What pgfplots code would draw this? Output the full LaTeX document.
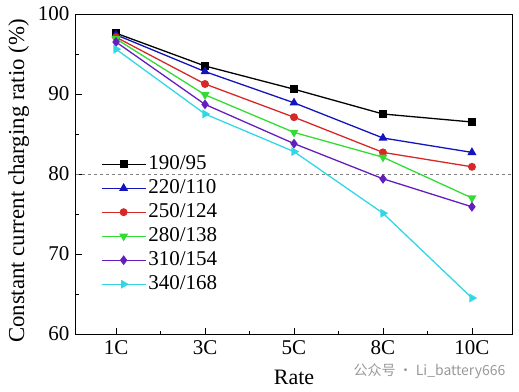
\documentclass[border=0pt]{standalone}
\usepackage{pgfplots}
\pgfplotsset{compat=1.18}
\usepackage{fontspec}
\setmainfont{Liberation Serif}
\newfontfamily\cjk{Noto Sans CJK SC}
\definecolor{cblue}{RGB}{20,20,190}
\definecolor{cred}{RGB}{215,40,40}
\definecolor{cgreen}{RGB}{50,220,50}
\definecolor{cpurple}{RGB}{100,30,190}
\definecolor{ccyan}{RGB}{50,215,230}
\begin{document}
\fontsize{19}{22}\selectfont
\begin{tikzpicture}
\useasboundingbox (-76pt,-57pt) rectangle (443pt,334pt);
\begin{axis}[
  scale only axis, width=436pt, height=320pt,
  xmin=-0.45, xmax=4.45, ymin=60, ymax=100,
  xtick={0,1,2,3,4}, xticklabels={1C,3C,5C,8C,10C},
  minor xtick={0.5,1.5,2.5,3.5},
  ytick={60,70,80,90,100}, minor ytick={65,75,85,95},
  tick pos=left, tick align=inside,
  major tick length=6pt, minor tick length=3.5pt,
  every tick/.style={black, line width=0.8pt},
  axis line style={line width=1pt},
  /pgf/number format/assume math mode=true,
  ticklabel style={font=\fontsize{21}{23}\selectfont},
  xlabel={Rate}, ylabel={Constant current charging ratio (\%)},
  xlabel style={font=\fontsize{22}{24}\selectfont, yshift=-3pt},
  ylabel style={font=\fontsize{22.8}{24}\selectfont, yshift=-4pt},
  every axis y label/.append style={at={(ticklabel cs:0.478)}},
  legend style={draw=none, fill=none, at={(0.05,0.575)}, anchor=north west,
    font=\fontsize{21}{24}\selectfont,
    nodes={text height=15pt, text depth=5pt, inner sep=2pt}},
  legend cell align=left,
  legend image code/.code={\draw[mark repeat=2,mark phase=2,#1] plot coordinates {(0pt,0pt) (22pt,0pt) (44pt,0pt)};},
  every axis plot/.append style={line width=1.3pt, mark size=3.3pt},
]
\addplot[gray, dashed, line width=0.5pt, forget plot] coordinates {(-0.45,80) (4.45,80)};
\addplot[black, mark=square*] coordinates {(0,97.6) (1,93.5) (2,90.6) (3,87.5) (4,86.5)};
\addlegendentry{190/95}
\addplot[cblue, mark=triangle*, mark size=3.9pt] coordinates {(0,97.4) (1,92.8) (2,88.9) (3,84.5) (4,82.7)};
\addlegendentry{220/110}
\addplot[cred, mark=*] coordinates {(0,97.1) (1,91.25) (2,87.1) (3,82.7) (4,80.9)};
\addlegendentry{250/124}
\addplot[cgreen, mark=triangle*, mark size=3.9pt, mark options={rotate=180}] coordinates {(0,96.9) (1,89.9) (2,85.2) (3,82.1) (4,77.0)};
\addlegendentry{280/138}
\addplot[cpurple, mark=diamond*, mark size=3.9pt] coordinates {(0,96.5) (1,88.7) (2,83.8) (3,79.4) (4,75.9)};
\addlegendentry{310/154}
\addplot[ccyan, mark=triangle*, mark size=3.9pt, mark options={rotate=-90}] coordinates {(0,95.6) (1,87.5) (2,82.8) (3,75.1) (4,64.5)};
\addlegendentry{340/168}
\end{axis}
\node[anchor=west, text=gray!80, font=\cjk\fontsize{14}{15}\selectfont] at (271pt,-37pt) {公众号 · Li\_battery666};
\end{tikzpicture}
\end{document}
